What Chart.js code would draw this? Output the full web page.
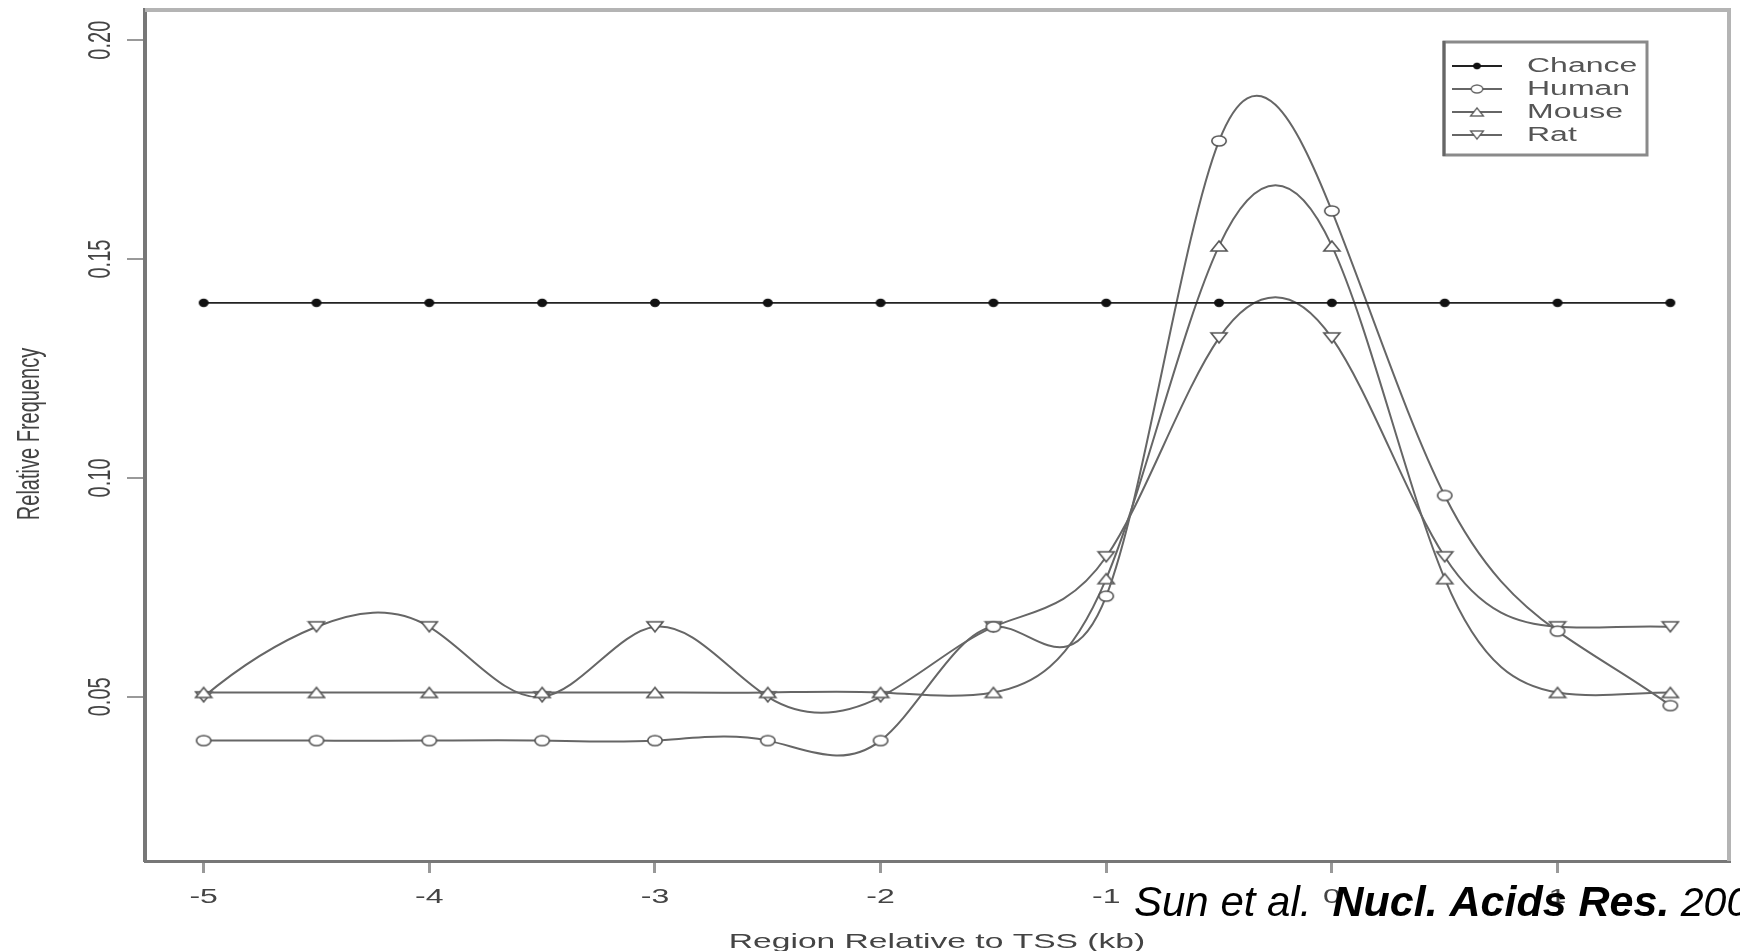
<!DOCTYPE html>
<html>
<head>
<meta charset="utf-8">
<script src="https://cdn.jsdelivr.net/npm/chart.js@4.4.1/dist/chart.umd.min.js"></script>
<style>
  html, body { margin: 0; padding: 0; background: #fff; }
  #grafico-container { width: 1740px; height: 951px; }
</style>
</head>
<body>
<div id="grafico-container"><canvas id="freqChart" width="1740" height="951"></canvas></div>
<script>
// Valores (posicion en kb respecto al TSS)
const posiciones = [-5, -4.5, -4, -3.5, -3, -2.5, -2, -1.5, -1, -0.5, 0, 0.5, 1, 1.5];
const chance = [0.14, 0.14, 0.14, 0.14, 0.14, 0.14, 0.14, 0.14, 0.14, 0.14, 0.14, 0.14, 0.14, 0.14];
const human  = [0.040, 0.040, 0.040, 0.040, 0.040, 0.040, 0.040, 0.066, 0.073, 0.177, 0.161, 0.096, 0.065, 0.048];
const mouse  = [0.051, 0.051, 0.051, 0.051, 0.051, 0.051, 0.051, 0.051, 0.077, 0.153, 0.153, 0.077, 0.051, 0.051];
const rat    = [0.050, 0.066, 0.066, 0.050, 0.066, 0.050, 0.050, 0.066, 0.082, 0.132, 0.132, 0.082, 0.066, 0.066];

const xTicks = [-5, -4, -3, -2, -1, 0, 1];
const yTicks = [0.05, 0.10, 0.15, 0.20];
const yTickLabels = ['0.05', '0.10', '0.15', '0.20'];
const series = ['Chance', 'Human', 'Mouse', 'Rat'];
const valores = [chance, human, mouse, rat];

// la figura original esta estirada en horizontal
const ESTIRA = 1.6;

// marcadores como pequeños canvas (elipses y triangulos estirados)
function crearMarcador(tipo) {
  const c = document.createElement('canvas');
  c.width = 20; c.height = 14;
  const g = c.getContext('2d');
  g.lineWidth = 1.6;
  g.strokeStyle = '#555';
  g.fillStyle = '#fff';
  g.beginPath();
  if (tipo === 'punto') {
    g.fillStyle = '#111';
    g.ellipse(10, 7, 5, 4.2, 0, 0, Math.PI * 2);
    g.fill();
    return c;
  } else if (tipo === 'circulo') {
    g.ellipse(10, 7, 7.2, 5, 0, 0, Math.PI * 2);
  } else if (tipo === 'arriba') {
    g.moveTo(10, 2); g.lineTo(18, 12); g.lineTo(2, 12); g.closePath();
  } else {
    g.moveTo(2, 2); g.lineTo(18, 2); g.lineTo(10, 12); g.closePath();
  }
  g.fill();
  g.stroke();
  return c;
}
const marcadores = [crearMarcador('punto'), crearMarcador('circulo'), crearMarcador('arriba'), crearMarcador('abajo')];
const colores = ['#222', '#666', '#666', '#666'];

// pendientes de un spline cubico tipo "fmm" (como spline() de R)
function pendientesSpline(x, y) {
  const n = x.length, nm1 = n - 1;
  const b = new Array(n).fill(0), c = new Array(n).fill(0), d = new Array(n).fill(0);
  d[0] = x[1] - x[0];
  c[1] = (y[1] - y[0]) / d[0];
  for (let i = 1; i < nm1; i++) {
    d[i] = x[i + 1] - x[i];
    b[i] = 2 * (d[i - 1] + d[i]);
    c[i + 1] = (y[i + 1] - y[i]) / d[i];
    c[i] = c[i + 1] - c[i];
  }
  b[0] = -d[0];
  b[nm1] = -d[n - 2];
  c[0] = c[nm1] = 0;
  if (n > 3) {
    c[0] = c[2] / (x[3] - x[1]) - c[1] / (x[2] - x[0]);
    c[nm1] = c[n - 2] / (x[nm1] - x[n - 3]) - c[n - 3] / (x[n - 2] - x[n - 4]);
    c[0] = c[0] * d[0] * d[0] / (x[3] - x[0]);
    c[nm1] = -c[nm1] * d[n - 2] * d[n - 2] / (x[nm1] - x[n - 4]);
  }
  for (let i = 1; i <= nm1; i++) {
    const t = d[i - 1] / b[i - 1];
    b[i] = b[i] - t * d[i - 1];
    c[i] = c[i] - t * c[i - 1];
  }
  c[nm1] = c[nm1] / b[nm1];
  for (let i = n - 2; i >= 0; i--) c[i] = (c[i] - d[i] * c[i + 1]) / b[i];
  const m = new Array(n);
  m[nm1] = (y[nm1] - y[n - 2]) / d[n - 2] + d[n - 2] * (c[n - 2] + 2 * c[nm1]);
  for (let i = 0; i < nm1; i++) m[i] = (y[i + 1] - y[i]) / d[i] - d[i] * (c[i + 1] + 2 * c[i]);
  return m;
}

// sustituye los puntos de control de Chart.js por los del spline
const curvaSpline = {
  id: 'curvaSpline',
  beforeDatasetDraw(chart, args) {
    const ds = chart.data.datasets[args.index];
    if (!ds.tension) return;
    const meta = args.meta;
    meta.dataset.updateControlPoints(chart.chartArea, 'x');
    const xs = posiciones, ys = valores[args.index];
    const m = pendientesSpline(xs, ys);
    const sx = chart.scales.x, sy = chart.scales.y;
    meta.data.forEach((pt, i) => {
      if (i > 0) {
        const h = xs[i] - xs[i - 1];
        pt.cp1x = sx.getPixelForValue(xs[i] - h / 3);
        pt.cp1y = sy.getPixelForValue(ys[i] - m[i] * h / 3);
      }
      if (i < xs.length - 1) {
        const h = xs[i + 1] - xs[i];
        pt.cp2x = sx.getPixelForValue(xs[i] + h / 3);
        pt.cp2y = sy.getPixelForValue(ys[i] + m[i] * h / 3);
      }
    });
  }
};

function texto(ctx, txt, x, y, font, color, rot, align) {
  ctx.save();
  ctx.translate(x, y);
  ctx.scale(ESTIRA, 1);
  if (rot) ctx.rotate(rot);
  ctx.font = font;
  ctx.fillStyle = color;
  ctx.textAlign = align || 'center';
  ctx.textBaseline = 'middle';
  ctx.fillText(txt, 0, 0);
  ctx.restore();
}

// marco superior/derecho, etiquetas, leyenda y cita
const decoracion = {
  id: 'decoracion',
  beforeDatasetsDraw(chart) {
    const ctx = chart.ctx;
    const a = chart.chartArea;
    ctx.save();
    ctx.strokeStyle = '#b4b4b4';
    ctx.lineWidth = 4;
    ctx.beginPath();
    ctx.moveTo(a.left, a.top);
    ctx.lineTo(a.right, a.top);
    ctx.lineTo(a.right, a.bottom);
    ctx.stroke();
    ctx.restore();
  },
  afterDraw(chart) {
    const ctx = chart.ctx;
    const sx = chart.scales.x;
    const sy = chart.scales.y;
    const a = chart.chartArea;
    const fuente = '20px "Liberation Sans", Arial, sans-serif';

    yTicks.forEach((v, i) => {
      texto(ctx, yTickLabels[i], 101, sy.getPixelForValue(v), fuente, '#444', -Math.PI / 2);
    });
    xTicks.forEach(v => {
      texto(ctx, String(v), sx.getPixelForValue(v), 897, fuente, '#444');
    });
    texto(ctx, 'Region Relative to TSS (kb)', (a.left + a.right) / 2, 942,
          '21px "Liberation Sans", Arial, sans-serif', '#444');
    texto(ctx, 'Relative Frequency', 30, 434, fuente, '#444', -Math.PI / 2);

    // leyenda
    ctx.save();
    ctx.strokeStyle = '#8a8a8a';
    ctx.lineWidth = 3;
    ctx.strokeRect(1444, 42, 203, 113);
    ctx.strokeStyle = '#666';
    ctx.beginPath(); ctx.moveTo(1444, 41); ctx.lineTo(1444, 156); ctx.stroke();
    const filas = [66, 89, 112, 135];
    series.forEach((nombre, i) => {
      ctx.strokeStyle = colores[i];
      ctx.lineWidth = 2;
      ctx.beginPath(); ctx.moveTo(1452, filas[i]); ctx.lineTo(1502, filas[i]); ctx.stroke();
      const mk = marcadores[i];
      ctx.drawImage(mk, 1477 - mk.width * 0.4, filas[i] - mk.height * 0.4, mk.width * 0.8, mk.height * 0.8);
      texto(ctx, nombre, 1527, filas[i], fuente, '#555', 0, 'left');
    });
    ctx.restore();

    // cita superpuesta
    ctx.save();
    ctx.fillStyle = '#000';
    ctx.textBaseline = 'alphabetic';
    ctx.font = 'italic 42px "Liberation Sans", Arial, sans-serif';
    ctx.fillText('Sun et al.', 1134, 916);
    let x = 1134 + ctx.measureText('Sun et al.').width + 21;
    ctx.font = 'italic bold 43px "Liberation Sans", Arial, sans-serif';
    ctx.fillText('Nucl. Acids Res.', x, 916);
    x += ctx.measureText('Nucl. Acids Res.').width;
    ctx.font = 'italic 41px "Liberation Sans", Arial, sans-serif';
    ctx.fillText(' 2005', x, 916);
    ctx.restore();
  }
};

function datos(v) {
  return posiciones.map((p, i) => ({ x: p, y: v[i] }));
}

const datasets = valores.map((v, i) => ({
  label: series[i],
  data: datos(v),
  borderColor: colores[i],
  borderWidth: i === 0 ? 1.6 : 2,
  tension: i === 0 ? 0 : 0.4,
  pointStyle: marcadores[i],
  pointRadius: 6,
  fill: false
}));

new Chart(document.getElementById('freqChart'), {
  type: 'line',
  data: { datasets: datasets },
  options: {
    responsive: false,
    devicePixelRatio: 1,
    animation: false,
    layout: { padding: { top: 10, right: 11, left: 0, bottom: 0 } },
    plugins: {
      legend: { display: false },
      tooltip: { enabled: false }
    },
    scales: {
      x: {
        type: 'linear',
        min: -5.26,
        max: 1.76,
        afterBuildTicks: s => { s.ticks = xTicks.map(v => ({ value: v })); },
        afterFit: s => { s.height = 90; },
        ticks: { display: false },
        grid: { drawOnChartArea: false, drawTicks: true, tickLength: 12, color: '#999', lineWidth: 3 },
        border: { display: true, color: '#777', width: 3 }
      },
      y: {
        type: 'linear',
        min: 0.0125,
        max: 0.2069,
        afterBuildTicks: s => { s.ticks = yTicks.map(v => ({ value: v })); },
        afterFit: s => { s.width = 145; },
        ticks: { display: false },
        grid: { drawOnChartArea: false, drawTicks: true, tickLength: 18, color: '#999', lineWidth: 2 },
        border: { display: true, color: '#777', width: 4 }
      }
    }
  },
  plugins: [curvaSpline, decoracion]
});
</script>
</body>
</html>
